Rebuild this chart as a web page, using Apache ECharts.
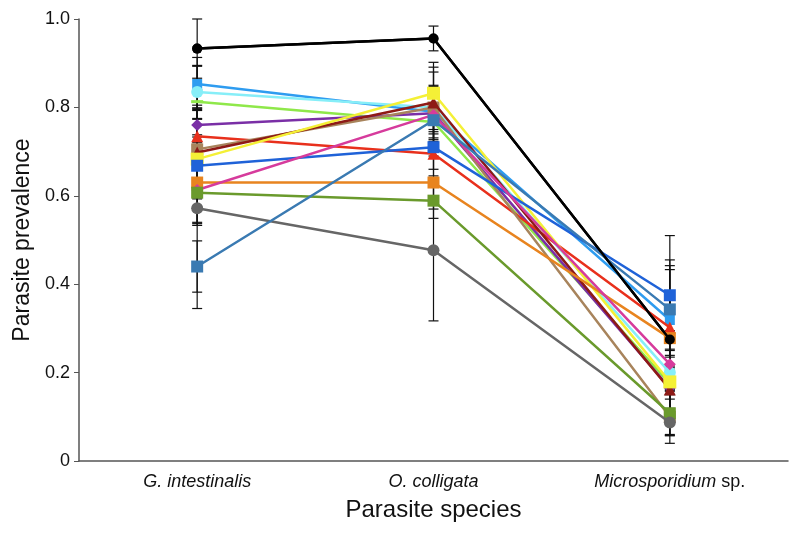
<!DOCTYPE html>
<html>
<head>
<meta charset="utf-8">
<script src="https://cdn.jsdelivr.net/npm/echarts@6/dist/echarts.min.js"></script>
<style>html,body{margin:0;padding:0;background:#fff}#c{width:800px;height:535px}</style>
</head>
<body>
<div id="c"></div>
<script>
const categories = ['G. intestinalis', 'O. colligata', 'Microsporidium sp.'];
const yTicks = [0, 0.2, 0.4, 0.6, 0.8, 1.0];

const blackVals   = [0.933, 0.956, 0.275];
const dodgerVals  = [0.853, 0.790, 0.319];
const cyanVals    = [0.835, 0.800, 0.200];
const lgreenVals  = [0.813, 0.767, 0.175];
const purpleVals  = [0.760, 0.787, 0.165];
const redVals     = [0.735, 0.695, 0.302];
const tanVals     = [0.705, 0.800, 0.100];
const dredVals    = [0.698, 0.811, 0.162];
const yellowVals  = [0.683, 0.832, 0.179];
const royalVals   = [0.668, 0.710, 0.375];
const orangeVals  = [0.630, 0.630, 0.278];
const magentaVals = [0.613, 0.783, 0.219];
const oliveVals   = [0.607, 0.589, 0.108];
const greyVals    = [0.572, 0.477, 0.087];
const steelVals   = [0.440, 0.771, 0.343];

const blackErr   = [0.067, 0.028, 0.235];
const dodgerErr  = [0.060, 0.050, 0.050];
const cyanErr    = [0.060, 0.050, 0.050];
const lgreenErr  = [0.080, 0.060, 0.060];
const purpleErr  = [0.080, 0.060, 0.050];
const redErr     = [0.070, 0.050, 0.140];
const tanErr     = [0.090, 0.080, 0.040];
const dredErr    = [0.100, 0.080, 0.050];
const yellowErr  = [0.090, 0.070, 0.060];
const royalErr   = [0.070, 0.050, 0.080];
const orangeErr  = [0.090, 0.060, 0.070];
const magentaErr = [0.080, 0.060, 0.060];
const oliveErr   = [0.070, 0.040, 0.050];
const greyErr    = [0.227, 0.160, 0.030];
const steelErr   = [0.058, 0.060, 0.090];

const defs = [
  [blackVals, blackErr, '#000000', 'circle', 10],
  [dodgerVals, dodgerErr, '#2e9cf0', 'rect', 10],
  [cyanVals, cyanErr, '#86eef8', 'circle', 12],
  [lgreenVals, lgreenErr, '#8fe84a', 'rect', [12, 3]],
  [purpleVals, purpleErr, '#7a2fa6', 'diamond', 12],
  [redVals, redErr, '#e8301c', 'triangle', 12],
  [tanVals, tanErr, '#a8845c', 'rect', 12],
  [dredVals, dredErr, '#8e1a16', 'triangle', 12],
  [yellowVals, yellowErr, '#f4f036', 'rect', 13],
  [royalVals, royalErr, '#1f62d8', 'rect', 12],
  [orangeVals, orangeErr, '#e8841f', 'rect', 12],
  [magentaVals, magentaErr, '#d63b9c', 'diamond', 12],
  [oliveVals, oliveErr, '#6a9a2c', 'rect', 12],
  [greyVals, greyErr, '#666666', 'circle', 12],
  [steelVals, steelErr, '#3a7ab2', 'rect', 12]
];

const errData = [];
defs.forEach(d => {
  d[0].forEach((v, i) => errData.push([i, v - d[1][i], v + d[1][i]]));
});

const series = [{
  type: 'custom',
  z: 1,
  silent: true,
  data: errData,
  renderItem: function (params, api) {
    const x = api.value(0);
    const lo = api.coord([x, api.value(1)]);
    const hi = api.coord([x, api.value(2)]);
    const w = 5;
    const st = { stroke: '#111', lineWidth: 1.2 };
    return {
      type: 'group',
      children: [
        { type: 'line', shape: { x1: lo[0], y1: lo[1], x2: hi[0], y2: hi[1] }, style: st },
        { type: 'line', shape: { x1: lo[0] - w, y1: lo[1], x2: lo[0] + w, y2: lo[1] }, style: st },
        { type: 'line', shape: { x1: hi[0] - w, y1: hi[1], x2: hi[0] + w, y2: hi[1] }, style: st }
      ]
    };
  }
}];

defs.forEach((d, k) => {
  series.push({
    type: 'line',
    z: 2 + k,
    data: d[0],
    symbol: d[3],
    symbolSize: d[4],
    lineStyle: { color: d[2], width: 2.5 },
    itemStyle: { color: d[2], borderWidth: 0 },
    animation: false
  });
});
series.push({
  type: 'line', z: 30, data: blackVals, symbol: 'circle', symbolSize: 10,
  lineStyle: { color: '#000', width: 2.5 }, itemStyle: { color: '#000' }, animation: false
});

const chart = echarts.init(document.getElementById('c'), null, { renderer: 'canvas' });
chart.setOption({
  animation: false,
  grid: { left: 79, right: 12, top: 19, bottom: 74 },
  xAxis: {
    type: 'category',
    data: categories,
    boundaryGap: true,
    name: 'Parasite species',
    nameLocation: 'middle',
    nameGap: 37,
    nameTextStyle: { fontFamily: 'Liberation Sans', fontSize: 24, color: '#111' },
    axisLine: { lineStyle: { color: '#555', width: 1.5 } },
    axisTick: { inside: true, length: 5, lineStyle: { color: '#555' } },
    axisLabel: {
      margin: 12,
      fontFamily: 'Liberation Sans',
      fontSize: 18,
      color: '#111',
      formatter: function (v) {
        if (v === 'Microsporidium sp.') return '{i|Microsporidium} sp.';
        return '{i|' + v + '}';
      },
      rich: { i: { fontStyle: 'italic', fontFamily: 'Liberation Sans', fontSize: 18, color: '#111' } }
    }
  },
  yAxis: {
    type: 'value',
    min: yTicks[0],
    max: yTicks[yTicks.length - 1],
    interval: 0.2,
    name: 'Parasite prevalence',
    nameLocation: 'middle',
    nameGap: 44,
    nameTextStyle: { fontFamily: 'Liberation Sans', fontSize: 23, color: '#111' },
    splitLine: { show: false },
    axisLine: { show: true, lineStyle: { color: '#555', width: 1.5 } },
    axisTick: { show: true, length: 5, lineStyle: { color: '#555' } },
    axisLabel: {
      margin: 9,
      fontFamily: 'Liberation Sans',
      fontSize: 18,
      color: '#111',
      formatter: function (v) { return v === 0 ? '0' : v.toFixed(1); }
    }
  },
  series: series
});
</script>
</body>
</html>
